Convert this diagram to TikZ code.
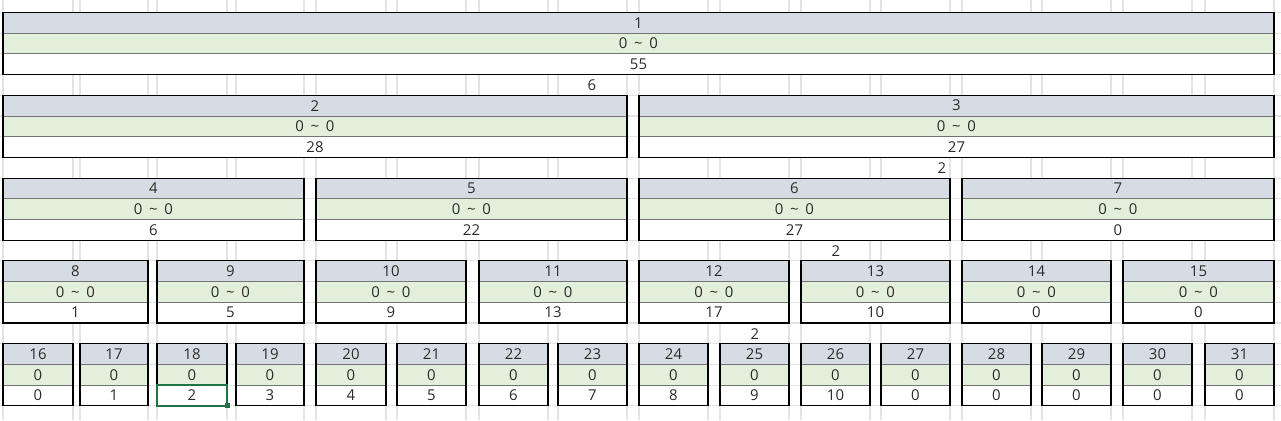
\documentclass[tikz,border=0pt]{standalone}
\usepackage{fontspec}
\setmainfont{Open Sans}
\usepackage{xcolor}
\usetikzlibrary{positioning,calc}

\definecolor{hdrblue}{HTML}{D6DCE4}
\definecolor{rnggreen}{HTML}{E2EFDA}
\definecolor{gridgray}{HTML}{E3E3E3}
\definecolor{selgreen}{HTML}{217346}
\definecolor{txtgray}{HTML}{2B2B2B}

\tikzset{
  cell/.style={rectangle, inner sep=0pt, outer sep=0pt, minimum height=20.7*0.02cm,
    draw=black!55, line width=0.5pt, text=txtgray, font=\fontsize{8.5}{9}\selectfont},
  hdrcell/.style={cell, fill=hdrblue},
  rngcell/.style={cell, fill=rnggreen},
  sumcell/.style={cell, fill=white},
  gridline/.style={gridgray, line width=0.6pt},
  gaplabel/.style={inner sep=0pt, text=txtgray, font=\fontsize{8.5}{9}\selectfont},
}

% one tree node: id, left, right, top, range, sum
\newcommand{\segbox}[6]{%
  \node[hdrcell, anchor=north west, minimum width={(#3-#2)*0.02cm}] (h#1) at (#2,#4) {#1};
  \node[rngcell, minimum width={(#3-#2)*0.02cm}, below=0pt of h#1] (r#1) {#5};
  \node[sumcell, minimum width={(#3-#2)*0.02cm}, below=0pt of r#1] (s#1) {#6};
  \draw[black, line width=0.6pt] (h#1.north west) rectangle (s#1.south east);
}

\begin{document}
\begin{tikzpicture}[x=0.02cm, y=-0.02cm]
  \useasboundingbox (0,0) rectangle (1281,420);

  % sheet grid
  \foreach \gx in {3,73,80,148,157,227,236,304,316,386,397,466,479,548,558,627,
                   639,708,720,789,801,870,881,950,962,1031,1042,1111,1123,1192,1205,1274}
    \draw[gridline] (\gx,0) -- (\gx,420);
  \foreach \k in {-1,...,19}
    \draw[gridline] (0,{12.5+20.7*\k}) -- (1281,{12.5+20.7*\k});

  % inner nodes
  \foreach \i/\l/\r/\t/\v in {1/3/1274/12.5/55,
      2/3/627/95.3/28, 3/639/1274/95.3/27,
      4/3/304/178.1/6, 5/316/627/178.1/22, 6/639/950/178.1/27, 7/962/1274/178.1/0,
      8/3/148/260.9/1, 9/157/304/260.9/5, 10/316/466/260.9/9, 11/479/627/260.9/13,
      12/639/789/260.9/17, 13/801/950/260.9/10, 14/962/1111/260.9/0, 15/1123/1274/260.9/0}
    {\segbox{\i}{\l}{\r}{\t}{0\hspace{0.45em}\textasciitilde\hspace{0.45em}0}{\v}}

  % leaves
  \foreach \i/\l/\r/\v in {16/3/73/0, 17/80/148/1, 18/157/227/2, 19/236/304/3,
      20/316/386/4, 21/397/466/5, 22/479/548/6, 23/558/627/7,
      24/639/708/8, 25/720/789/9, 26/801/870/10, 27/881/950/0,
      28/962/1031/0, 29/1042/1111/0, 30/1123/1192/0, 31/1205/1274/0}
    {\segbox{\i}{\l}{\r}{343.7}{0}{\v}}

  % loose values between the levels
  \node[gaplabel] (gapa) at (592,85.5) {6};
  \node[gaplabel] (gapb) at (942,168.3) {2};
  \node[gaplabel] (gapc) at (836,251.1) {2};
  \node[gaplabel] (gapd) at (755,333.9) {2};

  % selected cell
  \draw[selgreen, line width=1.3pt] (s18.north west) rectangle (s18.south east);
  \fill[selgreen] (s18.south east) ++(-2.5,-2.5) rectangle ++(5,5);
\end{tikzpicture}
\end{document}
